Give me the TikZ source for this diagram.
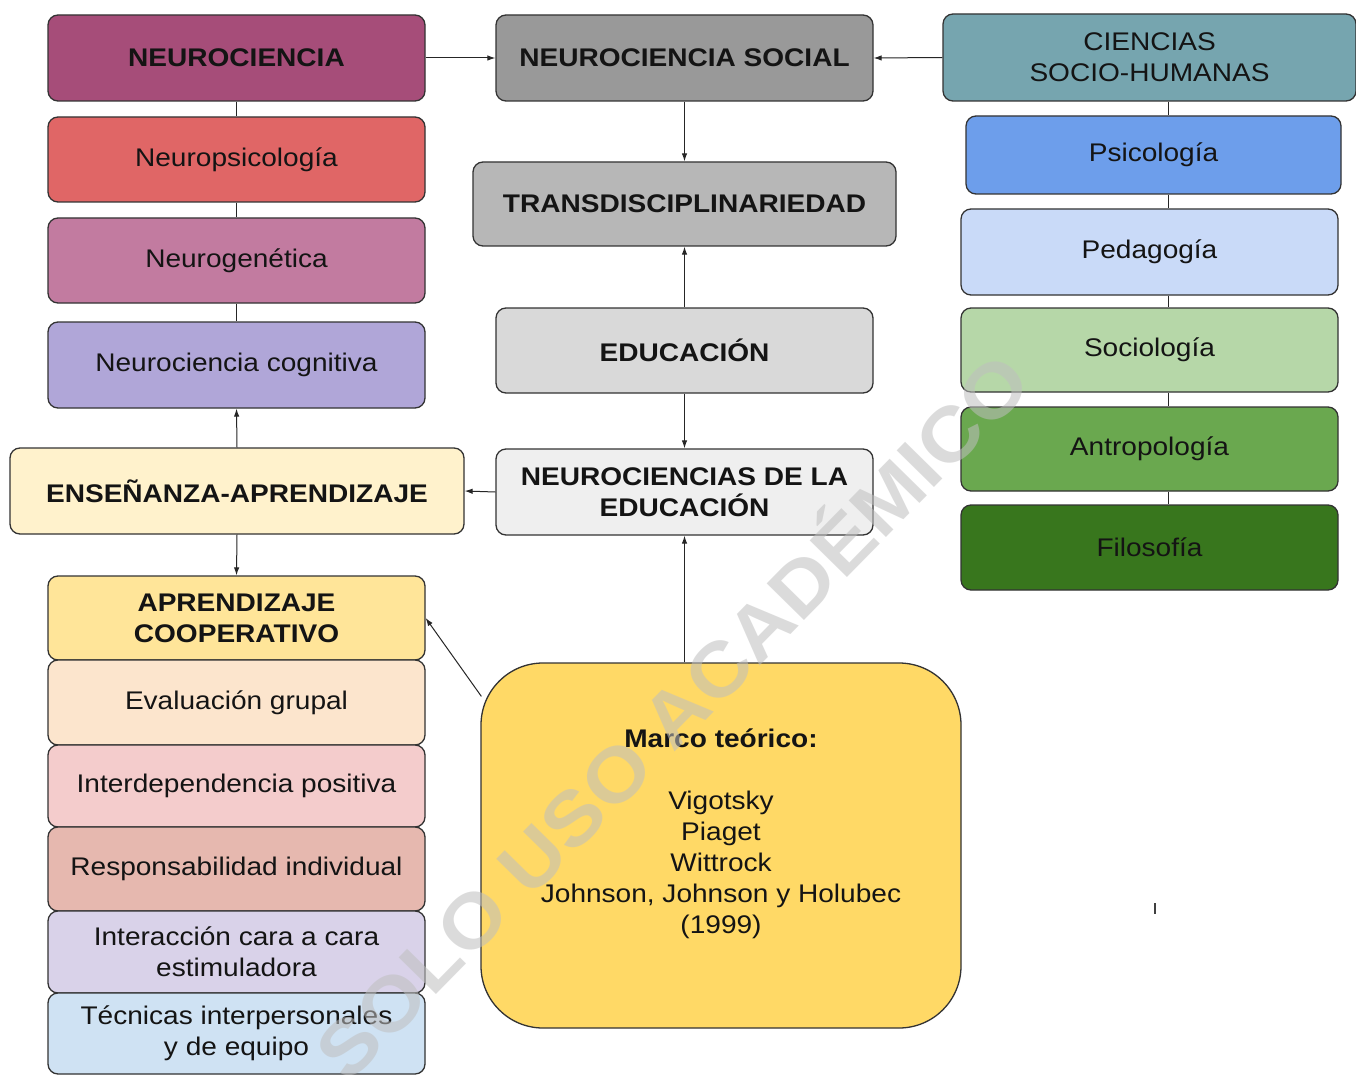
\documentclass[tikz,border=0pt]{standalone}
\usepackage{fontspec}
\setmainfont[FakeStretch=1.1]{Liberation Sans}
\usetikzlibrary{arrows.meta,calc}
\definecolor{cNeuro}{HTML}{A64D79}
\definecolor{cNpsi}{HTML}{E06666}
\definecolor{cNgen}{HTML}{C27BA0}
\definecolor{cNcog}{HTML}{B0A6D8}
\definecolor{cEns}{HTML}{FFF2CC}
\definecolor{cApr}{HTML}{FFE599}
\definecolor{cEval}{HTML}{FCE5CD}
\definecolor{cInter}{HTML}{F4CCCC}
\definecolor{cResp}{HTML}{E6B8AF}
\definecolor{cInte}{HTML}{D9D2E9}
\definecolor{cTec}{HTML}{CFE2F3}
\definecolor{cSoc}{HTML}{999999}
\definecolor{cTrans}{HTML}{B7B7B7}
\definecolor{cEdu}{HTML}{D9D9D9}
\definecolor{cNde}{HTML}{EFEFEF}
\definecolor{cMarco}{HTML}{FFD966}
\definecolor{cCie}{HTML}{76A5AF}
\definecolor{cPsi}{HTML}{6D9EEB}
\definecolor{cPed}{HTML}{C9DAF8}
\definecolor{cSocio}{HTML}{B6D7A8}
\definecolor{cAntro}{HTML}{6AA84F}
\definecolor{cFilo}{HTML}{38761D}
\begin{document}
\begin{tikzpicture}[x=1pt,y=-1pt,
  box/.style={draw=black!80, line width=1.3pt, rounded corners=10pt, inner sep=0pt,
    align=center, text=black!92, font=\fontsize{25.5}{31}\selectfont},
  hd/.style={box, font=\fontsize{25.5}{31}\selectfont\bfseries},
  ar/.style={-{Latex[length=8pt,width=5.5pt]}, line width=1pt, draw=black!85},
  ln/.style={line width=1pt, draw=black!85}]
\useasboundingbox (0,0) rectangle (1356,1075);
\fill[white] (0,0) rectangle (1356,1075);

% left column
\node[hd, fill=cNeuro, minimum width=377, minimum height=86] (neuro) at (236.5,58) {NEUROCIENCIA};
\node[box, fill=cNpsi, minimum width=377, minimum height=85] (npsi) at (236.5,159.5) {Neuropsicología};
\node[box, fill=cNgen, minimum width=377, minimum height=85] (ngen) at (236.5,260.5) {Neurogenética};
\node[box, fill=cNcog, minimum width=377, minimum height=86] (ncog) at (236.5,365) {Neurociencia cognitiva};
\node[hd, fill=cEns, minimum width=454, minimum height=86] (ens) at (237,491) {ENSEÑANZA-APRENDIZAJE};
\node[hd, fill=cApr, minimum width=377, minimum height=84] (apr) at (236.5,618) {APRENDIZAJE\\COOPERATIVO};
\node[box, fill=cEval, minimum width=377, minimum height=85] (eval) at (236.5,702.5) {Evaluación grupal};
\node[box, fill=cInter, minimum width=377, minimum height=82] (inter) at (236.5,786) {Interdependencia positiva};
\node[box, fill=cResp, minimum width=377, minimum height=84] (resp) at (236.5,869) {Responsabilidad individual};
\node[box, fill=cInte, minimum width=377, minimum height=82] (inte) at (236.5,952) {Interacción cara a cara\\estimuladora};
\node[box, fill=cTec, minimum width=377, minimum height=81] (tec) at (236.5,1033.5) {Técnicas interpersonales\\y de equipo};

% middle column
\node[hd, fill=cSoc, minimum width=377, minimum height=86] (soc) at (684.5,58) {NEUROCIENCIA SOCIAL};
\node[hd, fill=cTrans, minimum width=423, minimum height=84] (trans) at (684.5,204) {TRANSDISCIPLINARIEDAD};
\node[hd, fill=cEdu, minimum width=377, minimum height=85] (edu) at (684.5,350.5) {EDUCACIÓN};
\node[hd, fill=cNde, minimum width=377, minimum height=86] (nde) at (684.5,492) {NEUROCIENCIAS DE LA\\EDUCACIÓN};
\node[box, fill=cMarco, rounded corners=62pt, minimum width=480, minimum height=365] (marco) at (721,845.5) {};
\node[align=center, text=black!92, font=\fontsize{25.5}{31}\selectfont] (mtext) at ($(marco.center)+(0,-12)$)
  {\textbf{Marco teórico:}\\[31pt]Vigotsky\\Piaget\\Wittrock\\Johnson, Johnson y Holubec\\(1999)};

% right column
\node[box, fill=cCie, minimum width=413, minimum height=87] (cie) at (1149.5,57.5) {CIENCIAS\\SOCIO-HUMANAS};
\node[box, fill=cPsi, minimum width=375, minimum height=78] (psi) at (1153.5,155) {Psicología};
\node[box, fill=cPed, minimum width=377, minimum height=86] (ped) at (1149.5,252) {Pedagogía};
\node[box, fill=cSocio, minimum width=377, minimum height=84] (socio) at (1149.5,350) {Sociología};
\node[box, fill=cAntro, minimum width=377, minimum height=84] (antro) at (1149.5,449) {Antropología};
\node[box, fill=cFilo, minimum width=377, minimum height=85] (filo) at (1149.5,547.5) {Filosofía};

% plain links
\draw[ln] (neuro.south) -- (npsi.north);
\draw[ln] (npsi.south) -- (ngen.north);
\draw[ln] (ngen.south) -- (ncog.north);
\coordinate (vr) at (1168,0);
\draw[ln] (cie.south -| vr) -- (psi.north -| vr);
\draw[ln] (psi.south -| vr) -- (ped.north -| vr);
\draw[ln] (ped.south -| vr) -- (socio.north -| vr);
\draw[ln] (socio.south -| vr) -- (antro.north -| vr);
\draw[ln] (antro.south -| vr) -- (filo.north -| vr);

% arrows
\draw[ar] (neuro.east) -- (soc.west);
\draw[ar] (cie.west) -- (soc.east);
\draw[ar] (soc.south) -- (trans.north);
\draw[ar] (edu.north) -- (trans.south);
\draw[ar] (edu.south) -- (nde.north);
\draw[ar] (nde.west) -- (ens.east);
\draw[ar] (ens.north) -- (ncog.south);
\draw[ar] (ens.south) -- (apr.north);
\draw[ar] (nde.south |- marco.north) -- (nde.south);
\draw[ar] ($(marco.north west)+(1,34)$) -- (apr.east);

% stray tick
\draw[line width=1.5pt, black!75] (1155,903) -- (1155,914);

% watermark
\node[rotate=45.5, text=black!25, text opacity=0.55, font=\fontsize{76}{76}\selectfont\bfseries] (wm) at (668,712) {SOLO USO ACADÉMICO};
\end{tikzpicture}
\end{document}
